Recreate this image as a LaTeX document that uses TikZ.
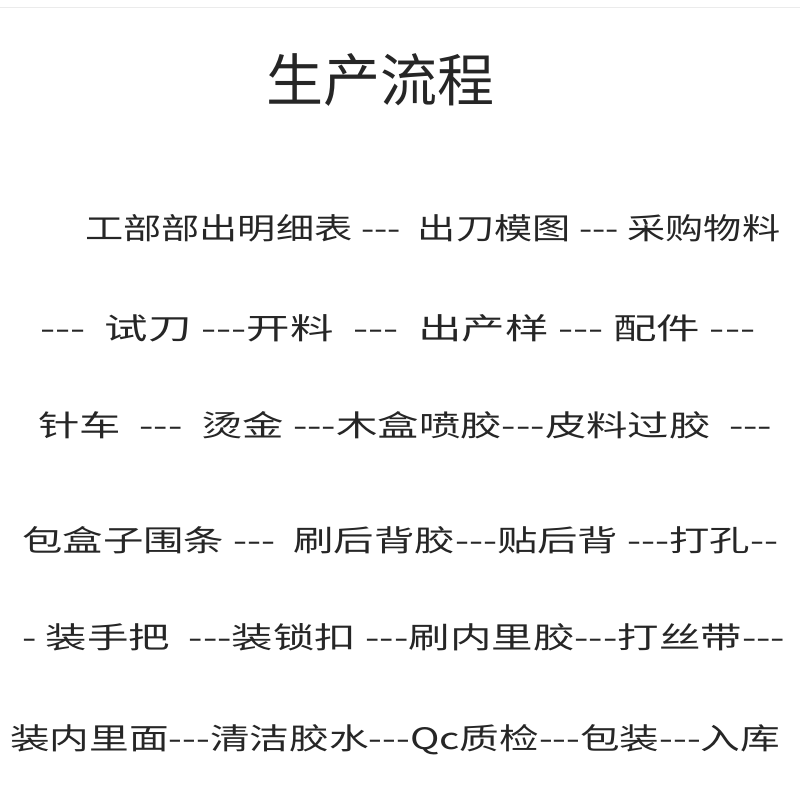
\documentclass[tikz,border=0pt]{standalone}
\usepackage{fontspec}
\usepackage{graphicx}
\newfontfamily\cjk{Noto Sans CJK SC}
\newcommand{\fitline}[2]{\resizebox{#1pt}{25pt}{#2}}
\begin{document}
\begin{tikzpicture}[x=1pt,y=-1pt,txt/.style={anchor=west,inner sep=0pt,font=\cjk\fontsize{28}{30}\selectfont,text=black!85}]
\useasboundingbox (0,0) rectangle (800,800);
\draw[black!8,line width=1pt] (0,8) -- (800,8);
\node[inner sep=0pt,font=\cjk\fontsize{57}{60}\selectfont,text=black!85] (title) at (380,80) {生产流程};
\node[txt] (l1) at (85,228) {\fitline{695}{工部部出明细表 ---\ \ 出刀模图 --- 采购物料}};
\node[txt] (l2) at (40,328) {\fitline{715}{---\ \ 试刀 ---开料\ \ ---\ \ 出产样 --- 配件 ---}};
\node[txt] (l3) at (38,425) {\fitline{734}{针车\ \ ---\ \ 烫金 ---木盒喷胶---皮料过胶\ \ ---}};
\node[txt] (l4) at (22,540) {\fitline{756}{包盒子围条 ---\ \ 刷后背胶---贴后背 ---打孔--}};
\node[txt] (l5) at (22,637) {\fitline{763}{- 装手把\ \ ---装锁扣 ---刷内里胶---打丝带---}};
\node[txt] (l6) at (10,740) {\fitline{770}{装内里面---清洁胶水---Qc质检---包装---入库}};
\end{tikzpicture}
\end{document}
